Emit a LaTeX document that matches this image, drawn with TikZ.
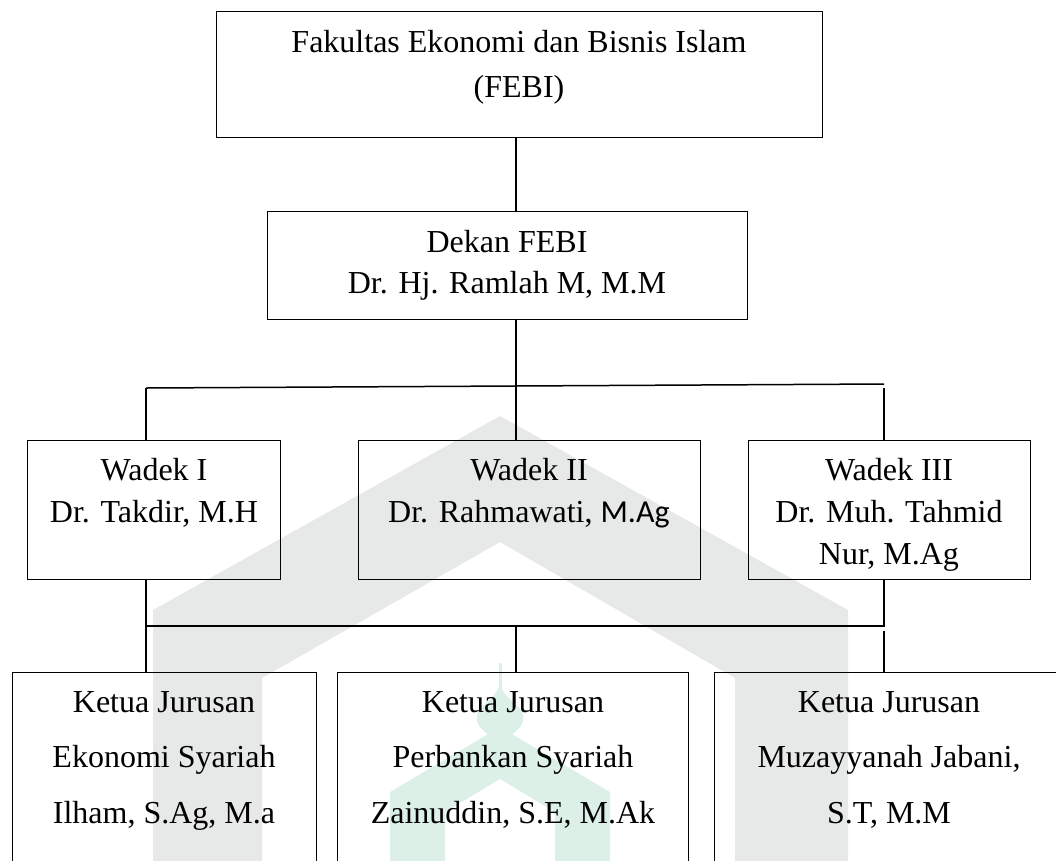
\documentclass[tikz,border=0pt]{standalone}
\usepackage{fontspec}
\setmainfont{Liberation Serif}
\newfontfamily\sansc{Carlito}
\definecolor{wmgrey}{RGB}{230,233,232}
\definecolor{wmgreen}{RGB}{221,240,232}
\begin{document}
\begin{tikzpicture}[x=1pt,y=-1pt,
  box/.style={draw, line width=1.4pt, inner sep=0pt, anchor=north west},
  txt/.style={anchor=base, inner sep=0pt, font=\fontsize{32}{38}\selectfont},
  conn/.style={line width=1.2pt}]
\useasboundingbox (0,0) rectangle (1056,860);
\clip (0,0) rectangle (1056,860);
% watermark: big house
\fill[wmgrey, even odd rule]
  (153,880) -- (153,610) -- (500,416) -- (848,610) -- (848,880) -- cycle
  (262,880) -- (262,678) -- (500,542) -- (735,678) -- (735,880) -- cycle;
% watermark: small mosque
\fill[wmgreen, even odd rule]
  (390,880) -- (390,792) -- (490,733) -- (510,733) -- (610,792) -- (610,880) -- cycle
  (445,880) -- (445,812) -- (500,779) -- (555,812) -- (555,880) -- cycle;
\fill[wmgreen] (489,735) .. controls (477,727) and (473,718) .. (480,709)
  .. controls (488,700) and (497,695) .. (500,684)
  .. controls (503,695) and (512,700) .. (520,709)
  .. controls (527,718) and (523,727) .. (511,735) -- cycle;
\draw[wmgreen, line width=3pt] (500,663) -- (500,690);
% boxes
\node[box, minimum width=606pt, minimum height=126pt] (fak) at (216,11) {};
\node[box, minimum width=480pt, minimum height=108pt] (dekan) at (267,211) {};
\node[box, minimum width=253pt, minimum height=139pt] (w1) at (27,440) {};
\node[box, minimum width=342pt, minimum height=139pt] (w2) at (358,440) {};
\node[box, minimum width=282pt, minimum height=139pt] (w3) at (748,440) {};
\node[box, minimum width=304pt, minimum height=210pt] (k1) at (12,672) {};
\node[box, minimum width=351pt, minimum height=210pt] (k2) at (337,672) {};
\node[box, minimum width=350pt, minimum height=210pt] (k3) at (714,672) {};
% texts
\node[txt] (fakA) at (519,52) {Fakultas Ekonomi dan Bisnis Islam};
\node[txt] (fakB) at (519,97) {(FEBI)};
\node[txt] (dekA) at (507,252) {Dekan FEBI};
\node[txt] (dekB) at (507,293) {Dr. Hj. Ramlah M, M.M};
\node[txt] (w1A) at (154,480) {Wadek I};
\node[txt] (w1B) at (154,522) {Dr. Takdir, M.H};
\node[txt] (w2A) at (529,480) {Wadek II};
\node[txt] (w2B) at (529,522) {Dr. Rahmawati, {\sansc M.Ag}};
\node[txt] (w3A) at (889,480) {Wadek III};
\node[txt] (w3B) at (889,522) {Dr. Muh. Tahmid};
\node[txt] (w3C) at (889,564) {Nur, M.Ag};
\node[txt] (k1A) at (164,712) {Ketua Jurusan};
\node[txt] (k1B) at (164,767) {Ekonomi Syariah};
\node[txt] (k1C) at (164,823) {Ilham, S.Ag, M.a};
\node[txt] (k2A) at (513,712) {Ketua Jurusan};
\node[txt] (k2B) at (513,767) {Perbankan Syariah};
\node[txt] (k2C) at (513,823) {Zainuddin, S.E, M.Ak};
\node[txt] (k3A) at (889,712) {Ketua Jurusan};
\node[txt] (k3B) at (889,767) {Muzayyanah Jabani,};
\node[txt] (k3C) at (889,823) {S.T, M.M};
% junctions
\coordinate (jL) at (146,388);
\coordinate (jM) at (516,386);
\coordinate (jR) at (884,384);
\coordinate (jR2) at (884,388);
\coordinate (kL) at (146,626);
\coordinate (kM) at (516,626);
\coordinate (kR) at (884,626);
\coordinate (kR2) at (884,631);
% connectors
\draw[conn] (fak.south -| jM) -- (dekan.north -| jM);
\draw[conn] (dekan.south -| jM) -- (jM);
\draw[conn, line width=1.5pt] (jL) -- (jR);
\draw[conn] (jL) -- (w1.north -| jL);
\draw[conn] (jM) -- (w2.north -| jM);
\draw[conn] (jR2) -- (w3.north -| jR2);
\draw[conn] (w1.south -| kL) -- (kL) -- (kR) -- (w3.south -| kR);
\draw[conn] (kL) -- (k1.north -| kL);
\draw[conn] (kM) -- (k2.north -| kM);
\draw[conn] (kR2) -- (k3.north -| kR2);
\end{tikzpicture}
\end{document}
